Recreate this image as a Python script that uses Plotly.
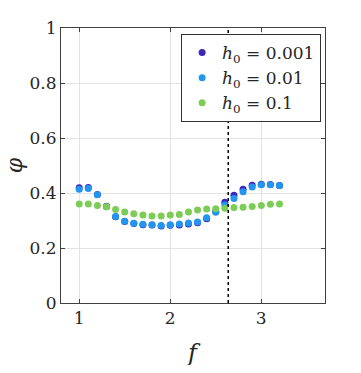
import plotly.graph_objects as go

F = [1.0, 1.1, 1.2, 1.3, 1.4, 1.5, 1.6, 1.7, 1.8, 1.9, 2.0, 2.1,
     2.2, 2.3, 2.4, 2.5, 2.6, 2.7, 2.8, 2.9, 3.0, 3.1, 3.2]

PHI_H0_001 = [0.419, 0.420, 0.395, 0.352, 0.314, 0.296, 0.289, 0.285, 0.284, 0.280, 0.283, 0.284,
              0.287, 0.292, 0.306, 0.333, 0.366, 0.392, 0.414, 0.428, 0.432, 0.431, 0.427]
PHI_H0_01 = [0.414, 0.416, 0.394, 0.350, 0.315, 0.297, 0.290, 0.286, 0.285, 0.282, 0.285, 0.287,
             0.291, 0.295, 0.310, 0.330, 0.356, 0.380, 0.405, 0.422, 0.430, 0.430, 0.427]
PHI_H0_1 = [0.360, 0.360, 0.355, 0.350, 0.340, 0.331, 0.325, 0.320, 0.316, 0.316, 0.320, 0.322,
            0.331, 0.338, 0.342, 0.343, 0.345, 0.347, 0.348, 0.351, 0.355, 0.359, 0.360]

F_MARK = 2.637
SERIES = [
    ("<i>h</i><sub>0</sub> = 0.001", PHI_H0_001, "#3D26B8"),
    ("<i>h</i><sub>0</sub> = 0.01", PHI_H0_01, "#2196F0"),
    ("<i>h</i><sub>0</sub> = 0.1", PHI_H0_1, "#7DCC55"),
]

FONT = "DejaVu Serif"

fig = go.Figure()
for name, vals, color in SERIES:
    fig.add_trace(go.Scatter(
        x=F, y=vals, name=name, mode="markers",
        marker=dict(color=color, size=7, line=dict(width=0)),
    ))

fig.add_trace(go.Scatter(
    x=[F_MARK, F_MARK], y=[0, 1], mode="lines", showlegend=False,
    line=dict(color="black", width=1.5, dash="dot"),
))

axis_common = dict(
    showline=True, linecolor="#404040", linewidth=1, mirror="allticks",
    ticks="inside", ticklen=4, tickcolor="#404040",
    showgrid=True, gridcolor="#E3E3E3", gridwidth=1, zeroline=False,
    tickfont=dict(family=FONT, size=17, color="#262626"),
    automargin=False,
)

# page body adds an 8px margin, so the figure is 16px smaller than the window
fig.update_layout(
    width=345, height=357,
    margin=dict(l=53, r=28, t=20, b=62),
    paper_bgcolor="white", plot_bgcolor="white",
    font=dict(family=FONT, color="#262626"),
    showlegend=True,
    legend=dict(
        x=0.455, y=0.978, xanchor="left", yanchor="top",
        bgcolor="white", bordercolor="#333333", borderwidth=1,
        font=dict(family=FONT, size=17, color="#262626"),
        tracegroupgap=0,
    ),
    xaxis=dict(**axis_common, range=[0.8, 3.7], tickvals=[1, 2, 3], ticktext=["1", "2", "3"]),
    yaxis=dict(
        **axis_common, range=[0, 1], tickvals=[0, 0.2, 0.4, 0.6, 0.8, 1],
        ticktext=["0", "0.2", "0.4", "0.6", "0.8", "1"],
    ),
    annotations=[
        dict(text="<i>f</i>", xref="paper", yref="paper", x=0.5, y=-0.18,
             xanchor="center", yanchor="middle", showarrow=False, borderpad=0,
             font=dict(family=FONT, size=24, color="#262626")),
        dict(text="<i>φ</i>", xref="paper", yref="paper", x=-0.175, y=0.5,
             xanchor="center", yanchor="middle", showarrow=False, textangle=-90, borderpad=0,
             font=dict(family=FONT, size=22, color="#262626")),
    ],
)

fig.write_html("out.html")
